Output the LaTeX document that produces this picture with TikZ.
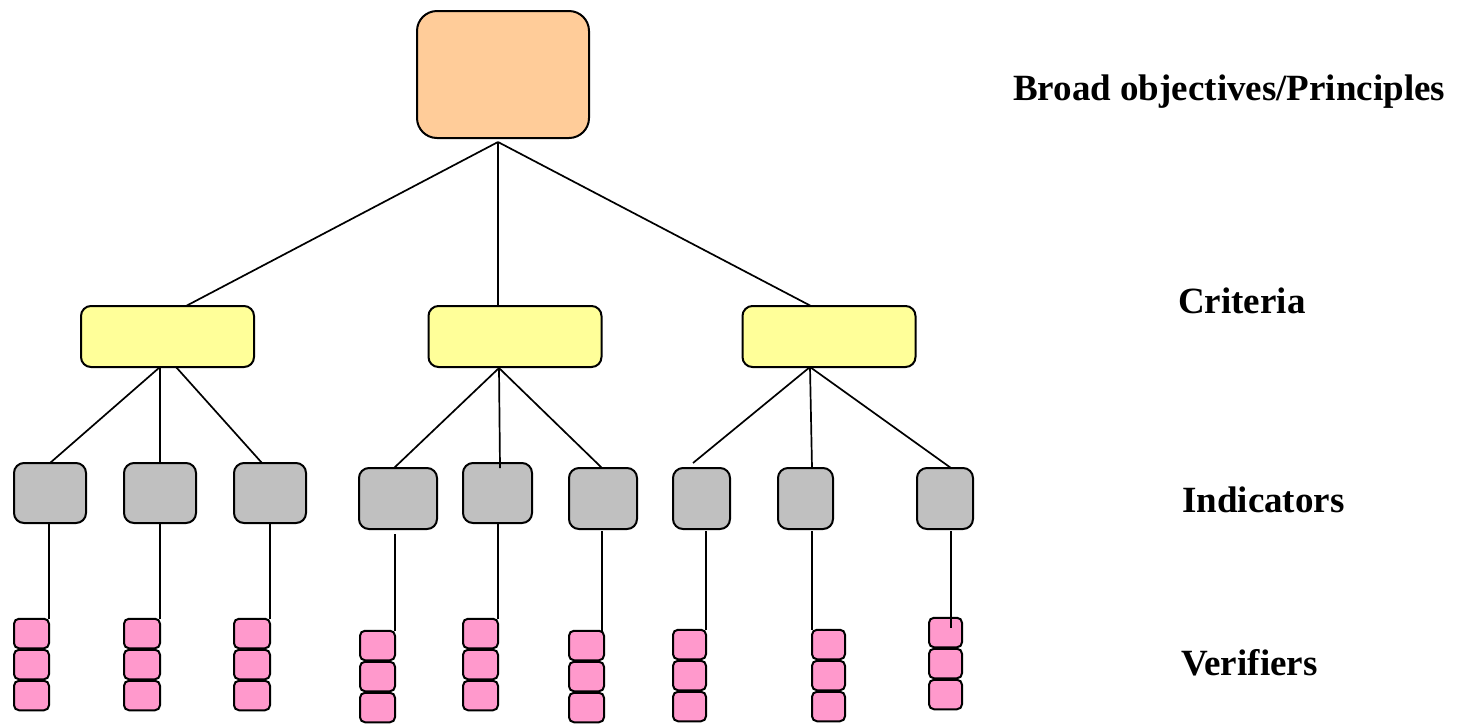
\documentclass[tikz,border=0pt]{standalone}
\usepackage{fontspec}
\setmainfont{Liberation Serif}
\definecolor{topfill}{HTML}{FFCC99}
\definecolor{critfill}{HTML}{FFFF99}
\definecolor{indfill}{HTML}{C0C0C0}
\definecolor{verfill}{HTML}{FF99CC}
\begin{document}
\begin{tikzpicture}[x=1pt,y=-1pt,
  basebox/.style={draw=black, line width=2pt, inner sep=0pt, outer sep=0pt},
  topbox/.style={basebox, fill=topfill, rounded corners=20pt},
  critbox/.style={basebox, fill=critfill, rounded corners=10pt},
  indbox/.style={basebox, fill=indfill, rounded corners=10pt},
  verbox/.style={basebox, fill=verfill, rounded corners=5pt},
  conn/.style={draw=black, line width=1.7pt},
  lbl/.style={anchor=base west, inner sep=0pt, font=\fontsize{37}{44}\selectfont\bfseries}]
\useasboundingbox (0,0) rectangle (1461,724);

% top
\node[topbox, minimum width=172pt, minimum height=127pt] (top) at (503,74.5) {};
% criteria
\node[critbox, minimum width=173pt, minimum height=61pt] (c1) at (167.5,336.5) {};
\node[critbox, minimum width=173pt, minimum height=61pt] (c2) at (515,336.5) {};
\node[critbox, minimum width=173pt, minimum height=61pt] (c3) at (829,336.5) {};
% indicators
\foreach \n/\xa/\ya/\xb/\yb in {1/13/462/87/524, 2/123/462/197/524, 3/233/462/307/524,
  4/358/467/438/530, 5/462/462/533/524, 6/568/467/638/530,
  7/672/467/731/530, 8/777/467/834/530, 9/916/467/974/530}
  \node[indbox, minimum width={\xb-\xa-2}, minimum height={\yb-\ya-2}] (g\n) at ({(\xa+\xb)/2},{(\ya+\yb)/2}) {};
% verifiers
\foreach \n/\xa/\xb/\yt in {1/13/50/618, 2/123/161/618, 3/233/271/618,
  4/359/396/630, 5/462/499/618, 6/568/605/630,
  7/672/707/629, 8/811/846/629, 9/928/963/617}
  \foreach \k in {0,1,2}
    \node[verbox, minimum width={\xb-\xa-2}, minimum height=29.5pt] (p\n-\k) at ({(\xa+\xb)/2},{\yt+15.5+31*\k}) {};

% top -> criteria
\coordinate (ta) at ([xshift=-5pt,yshift=-4pt]top.south);
\draw[conn] (ta) -- ([xshift=18.5pt]c1.north);
\draw[conn] (ta) -- ([xshift=-17pt]c2.north);
\draw[conn] (ta) -- ([xshift=-18pt]c3.north);

% criteria -> indicators
\draw[conn] ([xshift=-7.5pt]c1.south) -- (g1.north);
\draw[conn] ([xshift=-7.5pt]c1.south) -- (g2.north);
\draw[conn] ([xshift=8.5pt]c1.south) -- ([xshift=-8pt]g3.north);

\coordinate (c2a) at ([xshift=-16pt,yshift=-1pt]c2.south);
\draw[conn] (c2a) -- ([xshift=-4pt]g4.north);
\draw[conn] (c2a) -- ([xshift=2.5pt,yshift=-5pt]g5.north);
\draw[conn] (c2a) -- ([xshift=-1pt]g6.north);

\coordinate (c3a) at ([xshift=-19pt]c3.south);
\draw[conn] (c3a) -- ([xshift=-8.5pt,yshift=5pt]g7.north);
\draw[conn] (c3a) -- ([xshift=6.5pt]g8.north);
\draw[conn] (c3a) -- ([xshift=6pt]g9.north);

% indicators -> verifiers
\draw[conn] (g1.south -| p1-0.east) -- (p1-0.north east);
\draw[conn] (g2.south -| p2-0.east) -- (p2-0.north east);
\draw[conn] (g3.south -| p3-0.east) -- (p3-0.north east);
\draw[conn] ([yshift=-5pt]g4.south -| p4-0.east) -- (p4-0.north east);
\draw[conn] (g5.south -| p5-0.east) -- (p5-0.north east);
\draw[conn] ([xshift=-1pt,yshift=-2pt]g6.south) -- ([xshift=-1pt]g6.south |- p6-0.north);
\draw[conn] ([yshift=-2pt]g7.south -| p7-0.east) -- (p7-0.north east);
\draw[conn] ([yshift=-2pt]g8.south -| p8-0.west) -- (p8-0.north west);
\draw[conn] ([xshift=6pt,yshift=-2pt]g9.south) -- ([xshift=6pt,yshift=-10pt]g9.south |- p9-0.north);

% labels
\node[lbl] (lobj) at (1013,100) {Broad objectives/Principles};
\node[lbl] (lcrit) at (1178,313) {Criteria};
\node[lbl] (lind) at (1182,512) {Indicators};
\node[lbl] (lver) at (1181,675) {Verifiers};
\end{tikzpicture}
\end{document}
